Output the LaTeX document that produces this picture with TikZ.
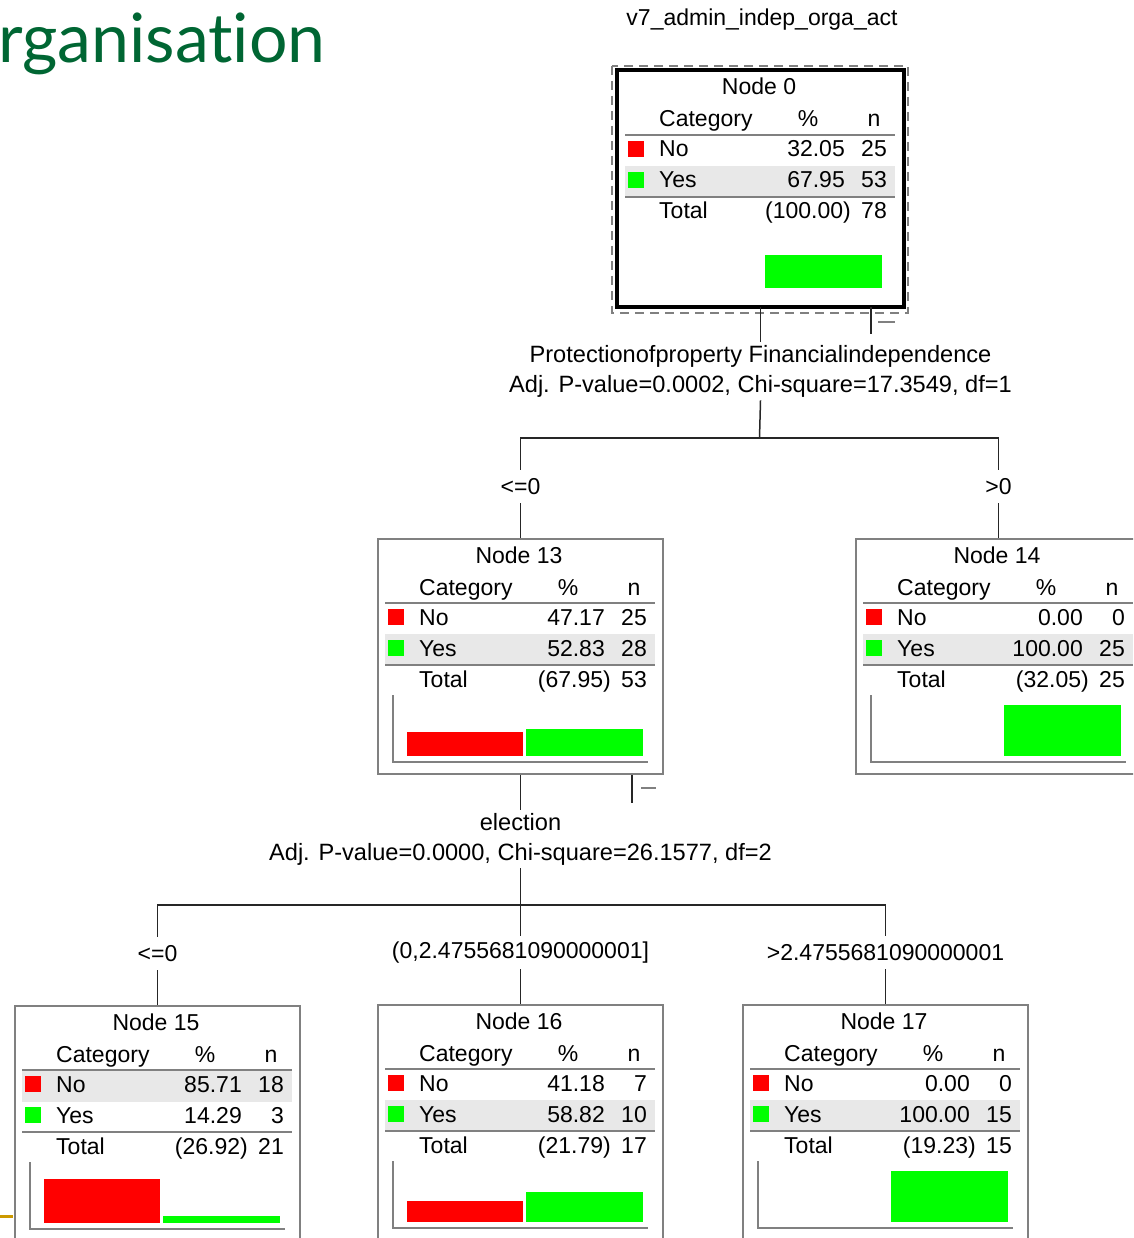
\documentclass[tikz,border=0pt]{standalone}
\usepackage{fontspec}
\setmainfont{Liberation Sans}
\newfontfamily\titlefont[Ligatures=NoCommon]{Lato}
\usetikzlibrary{positioning,calc}

\definecolor{noc}{RGB}{255,0,0}
\definecolor{yesc}{RGB}{0,255,0}
\definecolor{rowgray}{RGB}{232,232,232}
\definecolor{linegray}{RGB}{128,128,128}
\definecolor{titlegreen}{RGB}{0,102,51}
\definecolor{slidegold}{RGB}{204,153,0}

\tikzset{
  box/.style={draw=linegray, line width=2, minimum width=285, minimum height=235, inner sep=0, anchor=north west},
  txt/.style={inner sep=0, font=\fontsize{23}{28}\selectfont},
  tree/.style={draw=black!85, line width=1.5},
  tabrule/.style={draw=linegray, line width=2.5},
  baraxis/.style={draw=linegray, line width=2},
  collapse/.style={draw=linegray, line width=2},
  edgelbl/.style={txt, minimum height=33},
  splitlbl/.style={inner xsep=0, inner ysep=3, align=center, font=\fontsize{23.6}{30}\selectfont},
}

% #1 number, #2 corner, #3/#4 No, #5/#6 Yes, #7/#8 Total, #9 top of shaded row
\newcommand\ctnode[9]{%
  \node[box] (n#1) at (#2) {};
  \begin{scope}[shift={(#2)}]
    \fill[rowgray] (8,#9) rectangle (278,#9+31);
    \draw[tabrule] (8,65) -- (278,65);
    \draw[tabrule] (8,127) -- (278,127);
    \fill[noc] (11,71) rectangle (27,87);
    \fill[yesc] (11,102) rectangle (27,118);
    \node[txt, anchor=base] (n#1-title) at (142,25) {Node #1};
    \node[txt, anchor=base west] (n#1-cat) at (42,57) {Category};
    \node[txt, anchor=base] (n#1-pcth) at (191,57) {\%};
    \node[txt, anchor=base] (n#1-nh) at (257,57) {n};
    \node[txt, anchor=base west] (n#1-no) at (42,87) {No};
    \node[txt, anchor=base east] (n#1-nopct) at (228,87) {#3};
    \node[txt, anchor=base east] (n#1-non) at (270,87) {#4};
    \node[txt, anchor=base west] (n#1-yes) at (42,118) {Yes};
    \node[txt, anchor=base east] (n#1-yespct) at (228,118) {#5};
    \node[txt, anchor=base east] (n#1-yesn) at (270,118) {#6};
    \node[txt, anchor=base west] (n#1-tot) at (42,149) {Total};
    \node[txt, anchor=base east] (n#1-totpct) at (234,149) {#7};
    \node[txt, anchor=base east] (n#1-totn) at (270,149) {#8};
  \end{scope}
}

% #1 number, #2 corner, #3 No %, #4 Yes %
\newcommand\ctbars[4]{%
  \begin{scope}[shift={(#2)}]
    \draw[baraxis] (16,157) |- (271,224);
    \ifdim#3pt>0pt \fill[noc] (30,218) rectangle (146,218-0.51*#3); \fi
    \ifdim#4pt>0pt \fill[yesc] (149,218) rectangle (266,218-0.51*#4); \fi
  \end{scope}
}

\begin{document}
\begin{tikzpicture}[x=1pt, y=-1pt]
  \useasboundingbox (0,0) rectangle (1133,1238);
  \clip (0,0) rectangle (1133,1238);

  \node[anchor=base west, inner sep=0, text=titlegreen, font=\titlefont\fontsize{68}{72}\selectfont] (slide) at (-2,63) {rganisation};
  \draw[slidegold, line width=3] (0,1216) -- (13,1216);

  \node[txt] (target) at (762,20) {v7\_admin\_indep\_orga\_act};

  % root node
  \ctnode{0}{617,70}{32.05}{25}{67.95}{53}{(100.00)}{78}{96}
  \draw[line width=4] (n0.north west) rectangle (n0.south east);
  \draw[linegray, line width=2, dash pattern=on 9 off 6] ($(n0.north west)+(-5,-4)$) rectangle ($(n0.south east)+(4,6)$);
  \fill[yesc] (765,255) rectangle (882,288);

  % first split
  \ctnode{13}{377,538}{47.17}{25}{52.83}{28}{(67.95)}{53}{96}
  \ctbars{13}{377,538}{47.17}{52.83}
  \ctnode{14}{855,538}{0.00}{0}{100.00}{25}{(32.05)}{25}{96}
  \ctbars{14}{855,538}{0}{100}

  \node[splitlbl, below=35pt of n0] (s0) {Protectionofproperty Financialindependence\\Adj. P-value=0.0002, Chi-square=17.3549, df=1};
  \coordinate (fork0) at (759.5,438);
  \node[edgelbl, above=35pt of n13] (e13) {<=0};
  \node[edgelbl, above=35pt of n14] (e14) {>0};
  \draw[tree] (n0.south) -- (s0.north);
  \draw[tree] (s0.south) -- (fork0);
  \draw[tree] (e13.north) |- (fork0) -| (e14.north);
  \draw[tree] (e13.south) -- (n13.north);
  \draw[tree] (e14.south) -- (n14.north);
  \coordinate (c0) at (871,334);
  \draw[tree] (c0 |- n0.south) -- (c0);
  \draw[collapse] (878,322) -- (895,322);

  % second split
  \ctnode{15}{14,1005}{85.71}{18}{14.29}{3}{(26.92)}{21}{66}
  \ctbars{15}{14,1005}{85.71}{14.29}
  \ctnode{16}{377,1004}{41.18}{7}{58.82}{10}{(21.79)}{17}{96}
  \ctbars{16}{377,1004}{41.18}{58.82}
  \ctnode{17}{742,1004}{0.00}{0}{100.00}{15}{(19.23)}{15}{96}
  \ctbars{17}{742,1004}{0}{100}

  \node[splitlbl, below=35pt of n13] (s13) {election\\Adj. P-value=0.0000, Chi-square=26.1577, df=2};
  \coordinate (fork13) at (519.5,905);
  \node[edgelbl, above=35pt of n15] (e15) {<=0};
  \node[edgelbl, above=35pt of n16] (e16) {(0,2.4755681090000001]};
  \node[edgelbl, above=35pt of n17] (e17) {>2.4755681090000001};
  \draw[tree] (n13.south) -- (s13.north);
  \draw[tree] (s13.south) -- (e16.north);
  \draw[tree] (e15.north) |- (fork13) -| (e17.north);
  \draw[tree] (e15.south) -- (n15.north);
  \draw[tree] (e16.south) -- (n16.north);
  \draw[tree] (e17.south) -- (n17.north);
  \coordinate (c13) at (632,803);
  \draw[tree] (c13 |- n13.south) -- (c13);
  \draw[collapse] (641,788) -- (656,788);
\end{tikzpicture}
\end{document}
